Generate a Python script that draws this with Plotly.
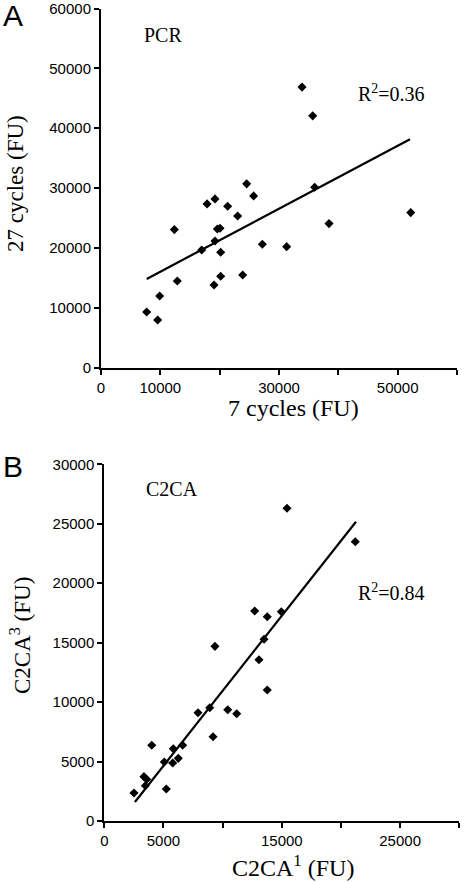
import plotly.graph_objects as go

W, H = 464, 882

# Panel A: PCR, 7 cycles vs 27 cycles (FU)
pcr_x = [33880, 35680, 36010, 17870, 19210, 21350, 24550, 25730, 23030, 52200,
         12360, 19610, 20060, 38430, 19210, 16970, 20170, 27190, 31290, 12860,
         19050, 20170, 23880, 9890, 7700, 9550]
pcr_y = [46860, 42060, 30130, 27340, 28180, 26950, 30690, 28680, 25330, 25890,
         23050, 23160, 23280, 24050, 21150, 19650, 19260, 20600, 20200, 14460,
         13800, 15250, 15470, 11960, 9280, 7940]
pcr_fit_x = [7700, 52080]
pcr_fit_y = [14800, 38160]

# Panel B: C2CA, C2CA1 vs C2CA3 (FU)
c2ca_x = [15440, 21210, 12710, 13770, 14960, 13500, 9350, 13070, 13770, 7920,
          8910, 10430, 11190, 9190, 4010, 5830, 6620, 6250, 5780, 5070,
          3350, 3580, 3470, 5240, 2510]
c2ca_y = [26300, 23490, 17660, 17180, 17600, 15280, 14690, 13560, 11020, 9110,
          9530, 9360, 9020, 7090, 6370, 6080, 6370, 5270, 4880, 4960,
          3730, 3510, 2970, 2690, 2350]
c2ca_fit_x = [2590, 21270]
c2ca_fit_y = [1600, 25170]

a_xtickvals = [0, 10000, 30000, 50000]
a_xtick_step = 10000
a_ytickvals = [0, 10000, 20000, 30000, 40000, 50000, 60000]
b_xtickvals = [0, 5000, 15000, 25000]
b_xtick_step = 5000
b_ytickvals = [0, 5000, 10000, 15000, 20000, 25000, 30000]


def px(x):
    return x / W


def py(y):
    return 1 - y / H


fig = go.Figure()
marker = dict(symbol="diamond", size=7, color="black")
line = dict(color="black", width=2.2)
fig.add_trace(go.Scatter(x=pcr_x, y=pcr_y, mode="markers", marker=marker, xaxis="x", yaxis="y"))
fig.add_trace(go.Scatter(x=pcr_fit_x, y=pcr_fit_y, mode="lines", line=line, xaxis="x", yaxis="y"))
fig.add_trace(go.Scatter(x=c2ca_x, y=c2ca_y, mode="markers", marker=marker, xaxis="x2", yaxis="y2"))
fig.add_trace(go.Scatter(x=c2ca_fit_x, y=c2ca_fit_y, mode="lines", line=line, xaxis="x2", yaxis="y2"))

tickfont = dict(family="Liberation Sans, Arial, sans-serif", size=15, color="black")
common = dict(showline=True, linecolor="black", linewidth=2, ticks="outside", ticklen=5,
              tickwidth=2, tickcolor="black", showgrid=False, zeroline=False,
              tickfont=tickfont, fixedrange=True, automargin=False,
              ticklabeloverflow="allow")


def minor(step):
    return dict(ticks="outside", ticklen=5, tickwidth=2, tickcolor="black",
                dtick=step, tick0=0, showgrid=False)


fig.update_layout(
    width=W, height=H,
    margin=dict(l=0, r=0, t=0, b=0, autoexpand=False),
    paper_bgcolor="white", plot_bgcolor="white",
    showlegend=False,
    xaxis=dict(domain=[px(101), px(457)], range=[0, 60000], tickmode="array",
               tickvals=a_xtickvals, ticktext=[str(v) for v in a_xtickvals],
               minor=minor(a_xtick_step), anchor="y", **common),
    yaxis=dict(domain=[py(367.5), py(8.5)], range=[0, 60000], tickmode="array",
               tickvals=a_ytickvals, ticktext=[str(v) for v in a_ytickvals], anchor="x", **common),
    xaxis2=dict(domain=[px(104.3), px(459.3)], range=[0, 30000], tickmode="array",
                tickvals=b_xtickvals, ticktext=[str(v) for v in b_xtickvals],
                minor=minor(b_xtick_step), anchor="y2", **common),
    yaxis2=dict(domain=[py(821), py(464.3)], range=[0, 30000], tickmode="array",
                tickvals=b_ytickvals, ticktext=[str(v) for v in b_ytickvals], anchor="x2", **common),
)

serif = "Liberation Serif, Times New Roman, serif"
sans = "Liberation Sans, Arial, sans-serif"


def ann(text, x, y, size, family=serif, angle=0):
    fig.add_annotation(text=text, x=px(x), y=py(y), xref="paper", yref="paper",
                       xanchor="center", yanchor="middle", showarrow=False,
                       textangle=angle, font=dict(family=family, size=size, color="black"))


ann("A", 13, 15, 30, sans)
ann("B", 13, 467, 30, sans)
ann("PCR", 163, 35, 20)
ann("C2CA", 172, 489, 20)
ann("R<sup>2</sup>=0.36", 391, 93, 20)
ann("R<sup>2</sup>=0.84", 391, 592, 20)
ann("7 cycles (FU)", 293, 408, 24)
ann("C2CA<sup>1</sup> (FU)", 293, 866, 24)
ann("27 cycles (FU)", 16, 184, 23, angle=-90)
ann("C2CA<sup>3</sup> (FU)", 20, 636, 23, angle=-90)

fig.write_html("out.html", config={"displayModeBar": False},
               post_script="document.body.style.margin='0';document.body.style.overflow='hidden';")
